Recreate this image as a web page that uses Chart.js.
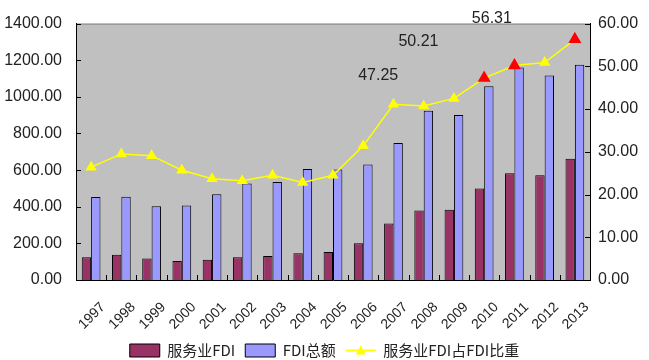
<!DOCTYPE html>
<html>
<head>
<meta charset="utf-8">
<script src="https://cdn.jsdelivr.net/npm/chart.js@4/dist/chart.umd.min.js"></script>
<style>
  html, body { margin: 0; padding: 0; background: #fff; }
  #wrap { width: 649px; height: 360px; }
</style>
</head>
<body>
<div id="wrap"><canvas id="fdiChart" width="649" height="360"></canvas></div>
<script>
// Chart data
const years = ['1997', '1998', '1999', '2000', '2001', '2002', '2003', '2004', '2005',
               '2006', '2007', '2008', '2009', '2010', '2011', '2012', '2013'];
const serviceFdi = [124, 138, 117, 104, 110, 124, 131, 146, 153, 201, 309, 379, 384, 499.63, 582.53, 571.96, 662.17];
const totalFdi = [452.57, 454.63, 403.19, 407.15, 468.78, 527.43, 535.05, 606.30, 603.25,
                  630.21, 747.68, 923.95, 900.33, 1057.35, 1160.11, 1117.16, 1175.86];
const shareRatio = [26.4, 29.5, 29.1, 25.7, 23.7, 23.2, 24.5, 22.8, 24.5, 31.4, 41.1, 40.7, 42.5, 47.25, 50.21, 50.9, 56.31];
const ratioLabels = ['', '', '', '', '', '', '', '', '', '', '', '', '', '47.25', '50.21', '', '56.31'];
const leftTicks = [0, 200, 400, 600, 800, 1000, 1200, 1400];
const rightTicks = [0, 10, 20, 30, 40, 50, 60];
const seriesNames = ['服务业FDI', 'FDI总额', '服务业FDI占FDI比重'];

// Label placement relative to its point (styling only)
const labelShift = { 13: [-106, -2], 14: [-96, -24], 16: [-83, -21] };

// Plot background and top border
const plotBackground = {
    id: 'plotBackground',
    beforeDraw(chart) {
        const { ctx, chartArea: a } = chart;
        ctx.save();
        ctx.fillStyle = '#c0c0c0';
        ctx.fillRect(a.left, a.top, a.right - a.left, a.bottom - a.top);
        ctx.strokeStyle = '#808080';
        ctx.lineWidth = 1;
        ctx.beginPath();
        ctx.moveTo(a.left, a.top + 0.5);
        ctx.lineTo(a.right, a.top + 0.5);
        ctx.stroke();
        ctx.restore();
    }
};

// Small inside tick marks on the three axes
const insideTicks = {
    id: 'insideTicks',
    afterDraw(chart) {
        const { ctx, chartArea: a, scales } = chart;
        ctx.save();
        ctx.strokeStyle = '#000';
        ctx.lineWidth = 1;
        ctx.beginPath();
        scales.y.ticks.forEach((t, i) => {
            const py = Math.round(scales.y.getPixelForTick(i)) + 0.5;
            ctx.moveTo(a.left, py); ctx.lineTo(a.left + 5, py);
        });
        scales.y1.ticks.forEach((t, i) => {
            const py = Math.round(scales.y1.getPixelForTick(i)) + 0.5;
            ctx.moveTo(a.right - 5, py); ctx.lineTo(a.right, py);
        });
        const step = (a.right - a.left) / years.length;
        for (let i = 1; i < years.length; i++) {
            const px = Math.round(a.left + step * i) + 0.5;
            ctx.moveTo(px, a.bottom); ctx.lineTo(px, a.bottom - 5);
        }
        ctx.stroke();
        ctx.restore();
    }
};

// Value labels for the highlighted ratio points + legend marker
const ratioText = {
    id: 'ratioText',
    afterDraw(chart) {
        const { ctx } = chart;
        const meta = chart.getDatasetMeta(2);
        ctx.save();
        ctx.font = '16px "Liberation Sans", Arial, sans-serif';
        ctx.fillStyle = '#222';
        ctx.textAlign = 'center';
        ctx.textBaseline = 'middle';
        ratioLabels.forEach((txt, i) => {
            if (!txt) return;
            const pt = meta.data[i];
            const [dx, dy] = labelShift[i] || [0, -14];
            ctx.fillText(txt, pt.x + dx, pt.y + dy);
        });

        // triangle on the legend line
        const hb = chart.legend.legendHitBoxes[2];
        if (hb) {
            const cx = hb.left + 15, cy = hb.top + hb.height / 2;
            ctx.fillStyle = '#ffff00';
            ctx.beginPath();
            ctx.moveTo(cx, cy - 5);
            ctx.lineTo(cx + 5, cy + 4);
            ctx.lineTo(cx - 5, cy + 4);
            ctx.closePath();
            ctx.fill();
        }
        ctx.restore();
    }
};

const pointColors = ratioLabels.map(l => l ? '#ff0000' : '#ffff00');
const pointSizes = ratioLabels.map(l => l ? 6 : 5);

const ctx = document.getElementById('fdiChart');
new Chart(ctx, {
    type: 'bar',
    data: {
        labels: years,
        datasets: [{
            label: seriesNames[0],
            data: serviceFdi,
            backgroundColor: '#993366',
            borderColor: '#000',
            borderWidth: 1,
            yAxisID: 'y',
            pointStyle: 'rect',
            order: 1
        }, {
            label: seriesNames[1],
            data: totalFdi,
            backgroundColor: '#9999ff',
            borderColor: '#000',
            borderWidth: 1,
            yAxisID: 'y',
            pointStyle: 'rect',
            order: 1
        }, {
            type: 'line',
            label: seriesNames[2],
            data: shareRatio,
            borderColor: '#ffff00',
            backgroundColor: '#ffff00',
            borderWidth: 1.5,
            pointStyle: 'triangle',
            pointRadius: pointSizes,
            pointBackgroundColor: pointColors,
            pointBorderColor: pointColors,
            tension: 0,
            yAxisID: 'y1',
            order: 0
        }]
    },
    options: {
        responsive: false,
        animation: false,
        layout: { padding: { top: 22, left: 0, right: 0, bottom: -8 } },
        datasets: {
            bar: { categoryPercentage: 0.62, barPercentage: 1.0 }
        },
        plugins: {
            tooltip: { enabled: false },
            legend: {
                position: 'bottom',
                labels: {
                    usePointStyle: true,
                    pointStyleWidth: 30,
                    boxHeight: 13,
                    padding: 10,
                    color: '#222',
                    font: { family: '"Noto Sans CJK SC", sans-serif', size: 15 },
                    sort: (a, b) => a.datasetIndex - b.datasetIndex,
                    generateLabels(chart) {
                        const items = Chart.defaults.plugins.legend.labels.generateLabels(chart);
                        items.forEach(it => {
                            if (it.datasetIndex === 2) {
                                it.pointStyle = 'line';
                                it.strokeStyle = '#ffff00';
                                it.lineWidth = 2;
                            }
                        });
                        return items;
                    }
                }
            }
        },
        scales: {
            x: {
                grid: { display: false, drawTicks: false },
                border: { display: true, color: '#000', width: 1 },
                ticks: {
                    color: '#222',
                    font: { family: '"Liberation Sans", Arial, sans-serif', size: 14 },
                    minRotation: 45,
                    maxRotation: 45,
                    labelOffset: 12,
                    padding: 19
                },
                afterFit(scale) { scale.height = 53; }
            },
            y: {
                position: 'left',
                min: 0,
                max: 1400,
                afterBuildTicks(scale) { scale.ticks = leftTicks.map(v => ({ value: v })); },
                grid: { display: false, drawTicks: false },
                border: { display: true, color: '#000', width: 1 },
                ticks: {
                    color: '#222',
                    padding: 14,
                    font: { family: '"Liberation Sans", Arial, sans-serif', size: 16 },
                    callback: v => v.toFixed(2)
                },
                afterFit(scale) { scale.width = 76; }
            },
            y1: {
                position: 'right',
                min: 0,
                max: 60,
                afterBuildTicks(scale) { scale.ticks = rightTicks.map(v => ({ value: v })); },
                grid: { display: false, drawTicks: false },
                border: { display: true, color: '#000', width: 1 },
                ticks: {
                    color: '#222',
                    padding: 8,
                    font: { family: '"Liberation Sans", Arial, sans-serif', size: 16 },
                    callback: v => v.toFixed(2)
                },
                afterFit(scale) { scale.width = 59; }
            }
        }
    },
    plugins: [plotBackground, insideTicks, ratioText]
});
</script>
</body>
</html>
